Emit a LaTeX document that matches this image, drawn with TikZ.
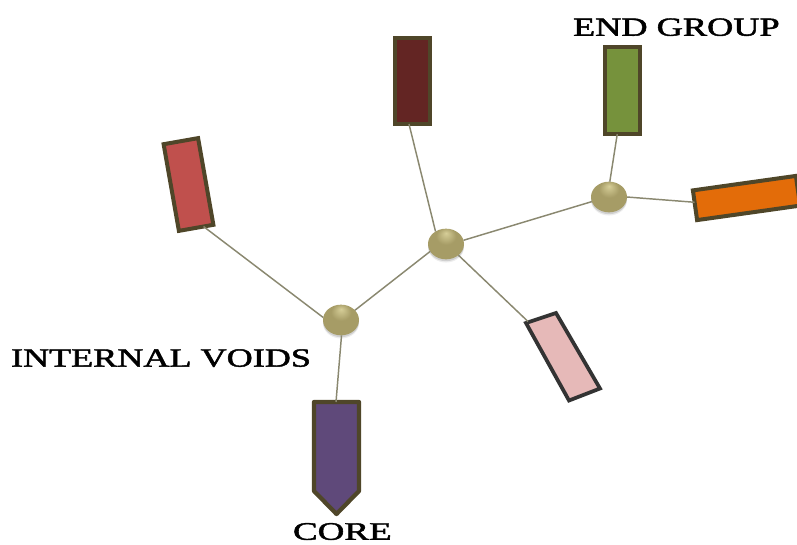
\documentclass[tikz,border=0pt]{standalone}
\usepackage{fontspec}
\setmainfont[FakeBold=1.6]{Liberation Serif}
\usetikzlibrary{shapes.geometric,calc,shadows}
\definecolor{edgeline}{HTML}{8A8870}
\definecolor{armline}{HTML}{4F4629}
\definecolor{pinkline}{HTML}{333333}
\definecolor{nubA}{HTML}{D6CE98}
\definecolor{nubB}{HTML}{A69C66}
\definecolor{nubC}{HTML}{8A7F4C}
\pgfdeclareradialshading{nubshade}{\pgfpoint{0bp}{18bp}}{
  color(0bp)=(nubA); color(14bp)=(nubB); color(30bp)=(nubB); color(42bp)=(nubC); color(50bp)=(nubC)}
\tikzset{
  x=0.75pt,y=-0.75pt,
  arm/.style={draw=armline,line width=3pt,inner sep=0pt,outer sep=0pt,line join=miter,
    minimum width=#1*0.75pt},
  nub/.style={ellipse,inner sep=0pt,outer sep=0pt,minimum width=27pt,minimum height=23pt,
    shading=nubshade,
    drop shadow={shadow xshift=0pt,shadow yshift=-2.4pt,fill=black,opacity=.07},
    drop shadow={shadow xshift=0pt,shadow yshift=-1.4pt,fill=black,opacity=.12}},
  bond/.style={draw=edgeline,line width=1.1pt},
  lbl/.style={inner sep=0pt,outer sep=0pt,anchor=south west,text=black}
}
\begin{document}
\begin{tikzpicture}
\useasboundingbox (0,0) rectangle (797,544);
% arms
\node[arm=35,minimum height=66pt,fill={rgb,255:red,192;green,80;blue,77},rotate=10] (red) at (188.5,184.5) {};
\node[arm=35,minimum height=64.5pt,fill={rgb,255:red,99;green,37;blue,35}] (darkred) at (412.5,81) {};
\node[arm=35,minimum height=65.5pt,fill={rgb,255:red,118;green,146;blue,60}] (green) at (622.5,90.5) {};
\node[arm=30,minimum height=78pt,fill={rgb,255:red,227;green,108;blue,9},rotate=98] (orangearm) at (746.5,198) {};
% pink arm
\coordinate (pinktop) at (528,321.5);
\draw[pinkline,line width=2.8pt,line join=miter,fill={rgb,255:red,230;green,185;blue,184}]
  (526,323) -- (556,313) -- (600,388.5) -- (569,400.5) -- cycle;
% core arrow
\coordinate (coretop) at (336,402);
\draw[armline,line width=3.2pt,line join=round,fill={rgb,255:red,95;green,73;blue,122}]
  (314,402) -- (359,402) -- (359,491) -- (336.5,514) -- (314,491) -- cycle;
% branch points
\node[nub] (nubA) at (341,320) {};
\node[nub] (nubB) at (446,244) {};
\node[nub] (nubC) at (609,197) {};
% bonds
\draw[bond] (nubA.172) -- ($(red.south)!0.43!(red.south east)$);
\draw[bond] (nubA.35) -- (nubB.205);
\draw[bond] (nubA.272) -- (coretop);
\draw[bond] (nubB.130) -- ($(darkred.south)!0.2!(darkred.south west)$);
\draw[bond] (nubB.-42) -- (pinktop);
\draw[bond] (nubB.12) -- (nubC.195);
\draw[bond] (nubC.87) -- ($(green.south)!0.3!(green.south west)$);
\draw[bond] (nubC.0) -- ($(orangearm.north)!0.2!(orangearm.north east)$);
% labels
\node[lbl] (endlabel) at (573,36) {\resizebox{155pt}{13pt}{END GROUP}};
\node[lbl] (voidslabel) at (11,367) {\resizebox{225pt}{13pt}{INTERNAL VOIDS}};
\node[lbl] (corelabel) at (293,540) {\resizebox{74pt}{12.5pt}{CORE}};
\end{tikzpicture}
\end{document}
